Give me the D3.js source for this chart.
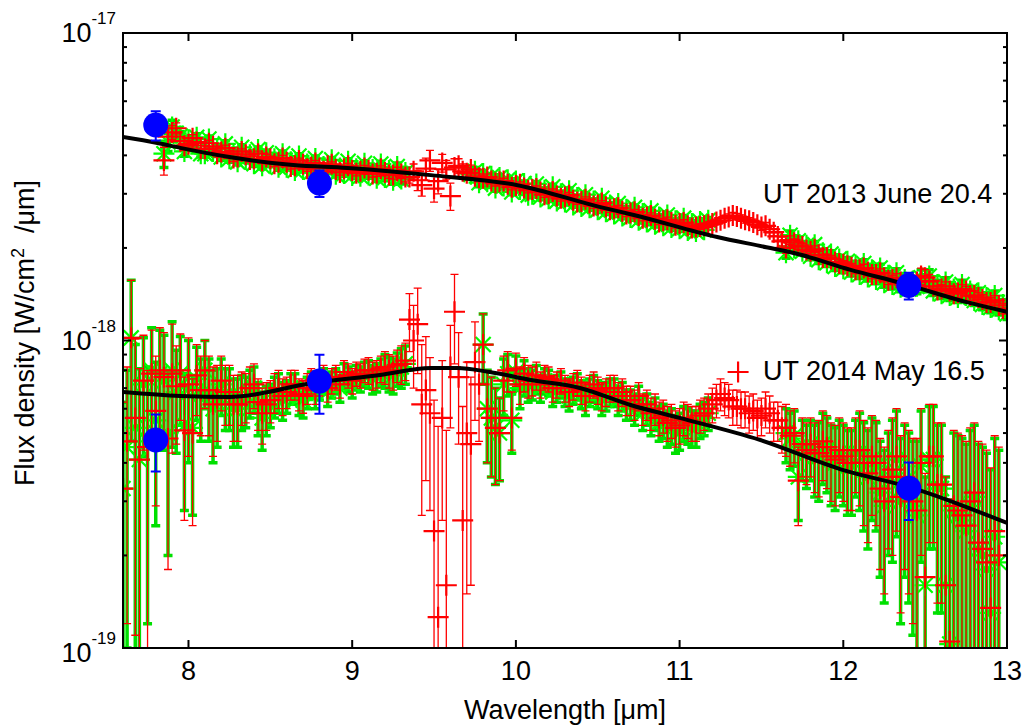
<!DOCTYPE html>
<html>
<head>
<meta charset="utf-8">
<script src="https://cdn.jsdelivr.net/npm/d3@7"></script>
<style>
  body { margin: 0; background: #fff; }
  svg { display: block; font-family: "Liberation Sans", Arial, Helvetica, sans-serif; }
</style>
</head>
<body>
<svg id="chart" width="1028" height="727"></svg>
<script>
// DATA  (flux values in units of 1e-18 W/cm^2/um, one row = 0.5 um)
const wavelength = [
  7.600, 7.625, 7.650, 7.675, 7.700, 7.725, 7.750, 7.775, 7.800, 7.825, 7.850, 7.875, 7.900, 7.925, 7.950, 7.975, 8.000, 8.025, 8.050, 8.075,
  8.100, 8.125, 8.150, 8.175, 8.200, 8.225, 8.250, 8.275, 8.300, 8.325, 8.350, 8.375, 8.400, 8.425, 8.450, 8.475, 8.500, 8.525, 8.550, 8.575,
  8.600, 8.625, 8.650, 8.675, 8.700, 8.725, 8.750, 8.775, 8.800, 8.825, 8.850, 8.875, 8.900, 8.925, 8.950, 8.975, 9.000, 9.025, 9.050, 9.075,
  9.100, 9.125, 9.150, 9.175, 9.200, 9.225, 9.250, 9.275, 9.300, 9.325, 9.350, 9.375, 9.400, 9.425, 9.450, 9.475, 9.500, 9.525, 9.550, 9.575,
  9.600, 9.625, 9.650, 9.675, 9.700, 9.725, 9.750, 9.775, 9.800, 9.825, 9.850, 9.875, 9.900, 9.925, 9.950, 9.975, 10.000, 10.025, 10.050, 10.075,
  10.100, 10.125, 10.150, 10.175, 10.200, 10.225, 10.250, 10.275, 10.300, 10.325, 10.350, 10.375, 10.400, 10.425, 10.450, 10.475, 10.500, 10.525, 10.550, 10.575,
  10.600, 10.625, 10.650, 10.675, 10.700, 10.725, 10.750, 10.775, 10.800, 10.825, 10.850, 10.875, 10.900, 10.925, 10.950, 10.975, 11.000, 11.025, 11.050, 11.075,
  11.100, 11.125, 11.150, 11.175, 11.200, 11.225, 11.250, 11.275, 11.300, 11.325, 11.350, 11.375, 11.400, 11.425, 11.450, 11.475, 11.500, 11.525, 11.550, 11.575,
  11.600, 11.625, 11.650, 11.675, 11.700, 11.725, 11.750, 11.775, 11.800, 11.825, 11.850, 11.875, 11.900, 11.925, 11.950, 11.975, 12.000, 12.025, 12.050, 12.075,
  12.100, 12.125, 12.150, 12.175, 12.200, 12.225, 12.250, 12.275, 12.300, 12.325, 12.350, 12.375, 12.400, 12.425, 12.450, 12.475, 12.500, 12.525, 12.550, 12.575,
  12.600, 12.625, 12.650, 12.675, 12.700, 12.725, 12.750, 12.775, 12.800, 12.825, 12.850, 12.875, 12.900, 12.925, 12.950, 12.975, 13.000
];

// UT 2013 June 20.4
const redJun2013 = [
  null, null, null, null, null, null, null, null, null, null, 3.85, 4.6, 4.75, 4.9, 4.45, 4.3, 4.35, 4.55, 4.42, 4.2,
  4.2, 4.38, 4.28, 4.05, 4.1, 4.22, 4.05, 3.92, 3.95, 4.12, 4.02, 3.88, 3.9, 4.05, 3.84, 3.95, 3.9, 3.76, 3.8, 3.92,
  3.8, 3.68, 3.7, 3.85, 3.74, 3.62, 3.66, 3.78, 3.64, 3.55, 3.7, 3.74, 3.6, 3.52, 3.62, 3.7, 3.57, 3.5, 3.55, 3.64,
  3.58, 3.48, 3.5, 3.62, 3.52, 3.45, 3.45, 3.56, 3.48, 3.4, 3.4, 3.55, 3.32, 3.2, 3.62, 3.85, 3.12, 3.3, 3.78, 3.6,
  2.95, 3.65, 3.7, 3.55, 3.5, 3.6, 3.42, 3.38, 3.37, 3.4, 3.3, 3.25, 3.28, 3.3, 3.22, 3.15, 3.19, 3.22, 3.13, 3.08,
  3.1, 3.12, 3.04, 2.98, 3.0, 3.05, 2.95, 2.9, 2.93, 2.97, 2.86, 2.82, 2.83, 2.88, 2.8, 2.74, 2.76, 2.8, 2.72, 2.66,
  2.68, 2.7, 2.63, 2.58, 2.6, 2.62, 2.55, 2.5, 2.52, 2.55, 2.48, 2.43, 2.45, 2.47, 2.42, 2.37, 2.4, 2.42, 2.36, 2.32,
  2.34, 2.35, 2.36, 2.38, 2.4, 2.43, 2.46, 2.5, 2.52, 2.55, 2.53, 2.5, 2.47, 2.45, 2.42, 2.38, 2.34, 2.36, 2.3, 2.25,
  2.18, 2.1, 2.0, 2.12, 2.08, 2.04, 2.02, 1.97, 1.95, 1.98, 1.9, 1.86, 1.86, 1.84, 1.8, 1.78, 1.77, 1.75, 1.73, 1.7,
  1.7, 1.72, 1.67, 1.64, 1.64, 1.66, 1.6, 1.57, 1.58, 1.6, 1.55, 1.52, 1.53, 1.5, 1.55, 1.62, 1.6, 1.56, 1.5, 1.46,
  1.47, 1.5, 1.45, 1.42, 1.43, 1.47, 1.45, 1.4, 1.4, 1.38, 1.36, 1.33, 1.33, 1.35, 1.3, 1.27, 1.27
];
const greenJun2013 = [
  null, null, null, null, null, null, null, null, null, null, 4.05, 4.42, 4.95, 4.72, 4.62, 4.12, 4.5, 4.38, 4.58, 4.05,
  4.05, 4.52, 4.12, 4.2, 3.95, 4.36, 3.9, 4.06, 3.81, 4.25, 3.88, 4.02, 3.76, 4.18, 3.7, 4.08, 3.76, 3.9, 3.66, 4.05,
  3.66, 3.81, 3.57, 3.98, 3.6, 3.75, 3.53, 3.91, 3.51, 3.68, 3.57, 3.87, 3.47, 3.64, 3.49, 3.83, 3.44, 3.62, 3.42, 3.77,
  3.45, 3.6, 3.37, 3.75, 3.39, 3.57, 3.32, 3.68, 3.35, 3.52, null, null, null, null, null, null, null, null, null, null,
  null, null, null, null, null, 3.47, 3.55, 3.26, 3.49, 3.28, 3.42, 3.13, 3.39, 3.18, 3.33, 3.04, 3.3, 3.1, 3.24, 2.97,
  2.99, 3.23, 2.93, 3.08, 2.89, 3.16, 2.84, 3.0, 2.82, 3.07, 2.76, 2.92, 2.73, 2.98, 2.7, 2.84, 2.66, 2.9, 2.62, 2.76,
  2.58, 2.79, 2.54, 2.67, 2.51, 2.71, 2.46, 2.59, 2.43, 2.64, 2.39, 2.52, 2.36, 2.56, 2.33, 2.45, 2.31, 2.5, 2.28, 2.4,
  2.26, 2.44, 2.29, 2.46, null, null, null, null, null, null, null, null, null, null, null, null, null, null, null, null,
  null, null, 1.93, 2.2, 2.0, 2.11, 1.95, 2.04, 1.88, 2.05, 1.83, 1.93, 1.79, 1.91, 1.74, 1.84, 1.71, 1.81, 1.67, 1.76,
  1.64, 1.78, 1.61, 1.7, 1.58, 1.72, 1.54, 1.63, 1.52, 1.66, 1.49, 1.58, 1.47, 1.56, 1.5, 1.6, 1.54, 1.62, 1.45, 1.52,
  1.42, 1.55, 1.4, 1.47, 1.38, 1.52, 1.4, 1.45, 1.35, 1.43, 1.31, 1.38, 1.28, 1.4, 1.26, 1.31, 1.22
];
const errJun2013 = [
  null, null, null, null, null, null, null, null, null, null, 0.4, 0.3, 0.25, 0.2, 0.15, 0.15, 0.12, 0.12, 0.12, 0.1,
  0.1, 0.1, 0.1, 0.1, 0.1, 0.1, 0.1, 0.1, 0.08, 0.08, 0.08, 0.08, 0.08, 0.08, 0.08, 0.08, 0.08, 0.08, 0.08, 0.08,
  0.07, 0.07, 0.07, 0.07, 0.07, 0.07, 0.07, 0.07, 0.07, 0.07, 0.07, 0.07, 0.07, 0.07, 0.07, 0.07, 0.07, 0.07, 0.07, 0.07,
  0.08, 0.08, 0.08, 0.08, 0.08, 0.08, 0.1, 0.1, 0.12, 0.12, 0.15, 0.2, 0.25, 0.25, 0.3, 0.3, 0.3, 0.3, 0.25, 0.25,
  0.3, 0.25, 0.2, 0.2, 0.15, 0.12, 0.1, 0.1, 0.08, 0.08, 0.07, 0.07, 0.07, 0.07, 0.06, 0.06, 0.06, 0.06, 0.06, 0.06,
  0.06, 0.06, 0.06, 0.06, 0.06, 0.06, 0.06, 0.06, 0.06, 0.06, 0.05, 0.05, 0.05, 0.05, 0.05, 0.05, 0.05, 0.05, 0.05, 0.05,
  0.05, 0.05, 0.05, 0.05, 0.05, 0.05, 0.05, 0.05, 0.05, 0.05, 0.05, 0.05, 0.05, 0.05, 0.05, 0.05, 0.05, 0.05, 0.05, 0.05,
  0.05, 0.05, 0.05, 0.05, 0.05, 0.05, 0.05, 0.05, 0.06, 0.06, 0.06, 0.06, 0.06, 0.06, 0.06, 0.06, 0.06, 0.06, 0.06, 0.06,
  0.06, 0.07, 0.08, 0.07, 0.06, 0.06, 0.05, 0.05, 0.05, 0.05, 0.05, 0.05, 0.05, 0.05, 0.05, 0.05, 0.05, 0.05, 0.05, 0.05,
  0.05, 0.05, 0.05, 0.05, 0.05, 0.05, 0.05, 0.05, 0.05, 0.05, 0.05, 0.05, 0.05, 0.05, 0.08, 0.1, 0.1, 0.08, 0.05, 0.05,
  0.05, 0.05, 0.05, 0.05, 0.05, 0.05, 0.05, 0.05, 0.05, 0.05, 0.05, 0.05, 0.05, 0.05, 0.05, 0.05, 0.05
];

// UT 2014 May 16.5
const redMay2014 = [
  0.33, 0.47, 1.02, 0.56, 0.41, 0.74, 0.45, 0.78, 0.59, 0.8, 0.76, 0.48, 0.78, 0.71, 0.8, 0.51, 0.72, 0.5, 0.77, 0.69,
  0.8, 0.69, 0.62, 0.65, 0.74, 0.68, 0.68, 0.62, 0.62, 0.66, 0.66, 0.7, 0.72, 0.63, 0.58, 0.62, 0.64, 0.68, 0.7, 0.66,
  0.68, 0.72, 0.72, 0.67, 0.66, 0.7, 0.74, 0.69, 0.73, 0.76, 0.7, 0.74, 0.76, 0.72, 0.79, 0.77, 0.74, 0.78, 0.77, 0.8,
  0.8, 0.77, 0.78, 0.81, 0.82, 0.8, 0.79, 0.83, 0.84, 0.86, 1.17, 1.0, 1.13, 0.62, 0.69, 0.58, 0.24, 0.126, 0.56, 0.16,
  0.82, 1.24, 0.76, 0.26, 0.5, 0.46, 0.85, 0.72, 0.97, 0.6, 0.56, 0.52, 0.5, 0.74, 0.8, 0.56, 0.81, 0.72, 0.78, 0.74,
  0.74, 0.77, 0.72, 0.76, 0.75, 0.7, 0.72, 0.74, 0.7, 0.68, 0.71, 0.73, 0.69, 0.66, 0.7, 0.72, 0.69, 0.66, 0.68, 0.7,
  0.7, 0.66, 0.68, 0.64, 0.64, 0.62, 0.66, 0.6, 0.62, 0.58, 0.6, 0.56, 0.57, 0.54, 0.55, 0.52, 0.53, 0.56, 0.55, 0.54,
  0.54, 0.57, 0.58, 0.6, 0.62, 0.64, 0.67, 0.65, 0.64, 0.61, 0.61, 0.6, 0.6, 0.58, 0.59, 0.56, 0.57, 0.6, 0.58, 0.55,
  0.55, 0.52, 0.52, 0.49, 0.5, 0.35, 0.46, 0.44, 0.46, 0.43, 0.43, 0.47, 0.45, 0.42, 0.41, 0.44, 0.42, 0.4, 0.4, 0.44,
  0.44, 0.4, 0.37, 0.42, 0.4, 0.33, 0.3, 0.36, 0.38, 0.42, 0.31, 0.36, 0.33, 0.3, 0.28, 0.4, 0.17, 0.42, 0.42, 0.34,
  0.34, 0.16, 0.105, 0.29, 0.28, 0.27, 0.25, 0.3, 0.32, 0.22, 0.21, 0.19, 0.135, 0.24, 0.2, null, null
];
const greenMay2014 = [
  0.33, 0.45, 1.02, 0.52, 0.41, 0.72, 0.47, 0.8, 0.55, 0.78, 0.74, 0.5, 0.8, 0.68, 0.78, 0.53, 0.7, 0.52, 0.75, 0.67,
  0.8, 0.67, 0.6, 0.63, 0.72, 0.66, 0.66, 0.6, 0.6, 0.64, 0.64, 0.68, 0.7, 0.61, 0.56, 0.6, 0.62, 0.66, 0.68, 0.64,
  0.66, 0.7, 0.7, 0.65, 0.64, 0.68, 0.72, 0.67, 0.71, 0.74, 0.68, 0.72, 0.74, 0.7, 0.77, 0.75, 0.72, 0.76, 0.75, 0.78,
  0.78, 0.75, 0.76, 0.79, 0.8, 0.78, 0.77, 0.81, 0.82, 0.84, null, null, null, null, null, null, null, null, null, null,
  null, null, null, null, null, null, null, null, 0.97, 0.6, 0.56, 0.52, 0.5, 0.72, 0.78, 0.55, 0.79, 0.7, 0.76, 0.72,
  0.72, 0.75, 0.7, 0.74, 0.73, 0.68, 0.7, 0.72, 0.68, 0.66, 0.69, 0.71, 0.67, 0.64, 0.68, 0.7, 0.67, 0.64, 0.66, 0.68,
  0.68, 0.64, 0.66, 0.62, 0.62, 0.6, 0.64, 0.58, 0.6, 0.56, 0.58, 0.54, 0.55, 0.52, 0.53, 0.5, 0.51, 0.54, 0.53, 0.52,
  0.52, 0.55, 0.56, 0.58, null, null, null, null, null, null, null, null, null, null, null, null, null, null, null, null,
  null, null, 0.5, 0.48, 0.49, 0.36, 0.45, 0.43, 0.45, 0.42, 0.42, 0.46, 0.44, 0.41, 0.4, 0.43, 0.41, 0.39, 0.39, 0.43,
  0.43, 0.39, 0.36, 0.41, 0.39, 0.32, 0.29, 0.35, 0.37, 0.41, 0.3, 0.35, 0.32, 0.29, 0.27, 0.39, 0.16, 0.41, 0.41, 0.33,
  0.33, 0.16, 0.103, 0.28, 0.27, 0.26, 0.24, 0.29, 0.31, 0.21, 0.2, 0.18, 0.13, 0.23, 0.19, null, null
];
const errMay2014 = [
  0.3, 0.35, 0.55, 0.45, 0.4, 0.3, 0.35, 0.3, 0.3, 0.3, 0.3, 0.3, 0.35, 0.25, 0.25, 0.25, 0.3, 0.25, 0.2, 0.2,
  0.2, 0.2, 0.2, 0.18, 0.15, 0.15, 0.15, 0.15, 0.15, 0.13, 0.12, 0.12, 0.12, 0.12, 0.12, 0.11, 0.1, 0.1, 0.1, 0.09,
  0.08, 0.08, 0.08, 0.08, 0.08, 0.08, 0.07, 0.07, 0.07, 0.07, 0.07, 0.07, 0.07, 0.07, 0.07, 0.07, 0.07, 0.07, 0.07, 0.07,
  0.08, 0.08, 0.08, 0.08, 0.1, 0.1, 0.1, 0.1, 0.12, 0.12, 0.25, 0.3, 0.35, 0.35, 0.34, 0.3, 0.4, 0.4, 0.3, 0.35,
  0.3, 0.4, 0.3, 0.35, 0.35, 0.3, 0.3, 0.25, 0.25, 0.2, 0.2, 0.18, 0.15, 0.15, 0.12, 0.12, 0.1, 0.1, 0.1, 0.09,
  0.08, 0.08, 0.07, 0.07, 0.07, 0.07, 0.07, 0.07, 0.07, 0.07, 0.07, 0.07, 0.07, 0.07, 0.07, 0.07, 0.07, 0.07, 0.07, 0.07,
  0.07, 0.07, 0.07, 0.07, 0.07, 0.07, 0.07, 0.07, 0.07, 0.07, 0.07, 0.07, 0.07, 0.07, 0.07, 0.07, 0.07, 0.07, 0.07, 0.07,
  0.07, 0.07, 0.07, 0.07, 0.08, 0.08, 0.08, 0.08, 0.08, 0.08, 0.08, 0.08, 0.08, 0.08, 0.08, 0.08, 0.08, 0.08, 0.08, 0.08,
  0.08, 0.09, 0.1, 0.1, 0.1, 0.1, 0.1, 0.1, 0.1, 0.11, 0.12, 0.12, 0.12, 0.12, 0.12, 0.12, 0.12, 0.12, 0.12, 0.12,
  0.15, 0.15, 0.15, 0.15, 0.15, 0.15, 0.15, 0.15, 0.18, 0.18, 0.18, 0.18, 0.18, 0.18, 0.2, 0.2, 0.2, 0.2, 0.2, 0.2,
  0.2, 0.2, 0.2, 0.22, 0.22, 0.22, 0.22, 0.22, 0.22, 0.25, 0.25, 0.25, 0.25, 0.25, 0.25, null, null
];

// model curves
const modelWlJun2013 = [7.6, 7.81, 7.95, 8.25, 8.64, 8.97, 9.48, 10.01, 10.51, 10.72, 11.23, 11.53, 11.74, 12.04, 12.35, 12.76, 13.0];
const modelJun2013 = [4.59, 4.39, 4.23, 3.95, 3.72, 3.64, 3.45, 3.2, 2.72, 2.56, 2.17, 2.01, 1.9, 1.7, 1.54, 1.33, 1.24];
const modelWlMay2014 = [7.6, 7.95, 8.25, 8.76, 9.17, 9.48, 9.64, 9.84, 10.09, 10.39, 10.7, 11.0, 11.49, 12.0, 12.4, 13.0];
const modelMay2014 = [0.68, 0.66, 0.655, 0.727, 0.772, 0.814, 0.814, 0.79, 0.744, 0.701, 0.617, 0.56, 0.475, 0.379, 0.334, 0.255];

// photometry
const photWl = [7.8, 8.8, 12.4];
const photJun2013 = [5.02, 3.25, 1.51];
const photErrJun2013 = [0.55, 0.32, 0.15];
const photMay2014 = [0.475, 0.738, 0.331];
const photErrMay2014 = [0.1, 0.16, 0.07];

const xTicks = [8, 9, 10, 11, 12, 13];
const yMajor = [1e-19, 1e-18, 1e-17];

// CANVAS SETUP
const svg = d3.select("#chart");
const margin = { top: 33, right: 21, bottom: 79, left: 123 },
  width = +svg.attr("width") - margin.left - margin.right,
  height = +svg.attr("height") - margin.top - margin.bottom;
const unit = 1e-18;

const x = d3.scaleLinear().domain([7.6, 13]).range([0, width]);
const y = d3.scaleLog().domain([1e-19, 1e-17]).range([height, 0]);
const yv = (v) => (v > 0 ? y(v * unit) : height + 40);

svg.append("defs").append("clipPath").attr("id", "clip")
  .append("rect").attr("width", width).attr("height", height);

const plot = svg.append("g").attr("transform", `translate(${margin.left},${margin.top})`);
const g = plot.append("g").attr("clip-path", "url(#clip)");

const plusPath = "M-10.5,0H10.5M0,-10.5V10.5";
const starPath = "M-10.5,0H10.5M0,-10.5V10.5M-7.5,-7.5L7.5,7.5M-7.5,7.5L7.5,-7.5";

const points = (vals, errs) =>
  wavelength.map((w, i) => ({ w, v: vals[i], e: errs[i] })).filter((d) => d.v != null);

function errorBars(layer, pts, color, lw, cap) {
  layer.append("g").attr("stroke", color).attr("stroke-width", lw).attr("fill", "none")
    .selectAll("path").data(pts).join("path")
    .attr("d", (d) => {
      const cx = x(d.w), y0 = yv(d.v + d.e), y1 = yv(d.v - d.e);
      return `M${cx},${y0}V${y1}M${cx - cap},${y0}H${cx + cap}M${cx - cap},${y1}H${cx + cap}`;
    });
}

function markers(layer, pts, color, path, lw) {
  layer.append("g").attr("stroke", color).attr("stroke-width", lw).attr("fill", "none")
    .selectAll("path").data(pts).join("path")
    .attr("transform", (d) => `translate(${x(d.w)},${yv(d.v)})`)
    .attr("d", path);
}

// RENDER SPECTRA
[
  [greenJun2013, redJun2013, errJun2013],
  [greenMay2014, redMay2014, errMay2014],
].forEach(([green, red, err]) => {
  const gp = points(green, err), rp = points(red, err);
  errorBars(g, gp, "#00e000", 3.5, 4.5);
  markers(g, gp, "#00ff00", starPath, 2.2);
  errorBars(g, rp, "#ff0000", 1.3, 4);
  markers(g, rp, "#ff0000", plusPath, 2.2);
});

// MODEL CURVES
const line = d3.line().x((d) => x(d[0])).y((d) => yv(d[1])).curve(d3.curveMonotoneX);
[[modelWlJun2013, modelJun2013], [modelWlMay2014, modelMay2014]].forEach(([wl, m]) => {
  g.append("path")
    .datum(wl.map((w, i) => [w, m[i]]))
    .attr("fill", "none").attr("stroke", "#000").attr("stroke-width", 4)
    .attr("stroke-linejoin", "round")
    .attr("d", line);
});

// PHOTOMETRY
[[photJun2013, photErrJun2013], [photMay2014, photErrMay2014]].forEach(([p, pe]) => {
  const pts = photWl.map((w, i) => ({ w, v: p[i], e: pe[i] }));
  errorBars(g, pts, "#0000ff", 2, 5);
  g.append("g").selectAll("circle").data(pts).join("circle")
    .attr("cx", (d) => x(d.w)).attr("cy", (d) => yv(d.v))
    .attr("r", 12.5).attr("fill", "#0000ff");
});

// AXES
plot.append("rect").attr("width", width).attr("height", height)
  .attr("fill", "none").attr("stroke", "#000").attr("stroke-width", 2);

const ticks = plot.append("g").attr("stroke", "#000").attr("stroke-width", 2);
xTicks.forEach((t) => {
  ticks.append("line").attr("x1", x(t)).attr("x2", x(t)).attr("y1", height).attr("y2", height - 8);
  ticks.append("line").attr("x1", x(t)).attr("x2", x(t)).attr("y1", 0).attr("y2", 8);
});
y.ticks().forEach((t) => {
  const major = yMajor.some((m) => Math.abs(m - t) / m < 1e-6);
  const len = major ? 8 : 4;
  ticks.append("line").attr("x1", 0).attr("x2", len).attr("y1", y(t)).attr("y2", y(t));
  ticks.append("line").attr("x1", width).attr("x2", width - len).attr("y1", y(t)).attr("y2", y(t));
});

plot.append("g").selectAll("text").data(xTicks).join("text")
  .attr("x", (d) => x(d)).attr("y", height + 32)
  .attr("text-anchor", "middle").attr("font-size", 27).attr("fill", "#000")
  .text((d) => d);

yMajor.forEach((t, i) => {
  const txt = plot.append("text")
    .attr("x", -7).attr("y", y(t) + (i === 0 ? 14 : 9))
    .attr("text-anchor", "end").attr("font-size", 27).attr("fill", "#000");
  txt.append("tspan").text("10");
  txt.append("tspan").attr("dy", -18).attr("font-size", 17).text(Math.round(Math.log10(t)));
});

// LABELS
svg.append("text")
  .attr("x", margin.left + width / 2).attr("y", 719)
  .attr("text-anchor", "middle").attr("font-size", 27)
  .text("Wavelength [\u03bcm]");

const ylab = svg.append("text")
  .attr("transform", "translate(34,333) rotate(-90)")
  .attr("text-anchor", "middle").attr("font-size", 27);
ylab.append("tspan").text("Flux density [W/cm");
ylab.append("tspan").attr("dy", -10).attr("font-size", 18).text("2");
ylab.append("tspan").attr("dy", 10).text("\u00a0\u00a0/\u03bcm]");

// ANNOTATION + LEGEND
const lx = x(11.51);
plot.append("text").attr("x", lx).attr("y", 203 - margin.top)
  .attr("font-size", 27).text("UT 2013 June 20.4");
plot.append("text").attr("x", lx).attr("y", 380 - margin.top)
  .attr("font-size", 27).text("UT 2014 May 16.5");
plot.append("path")
  .attr("transform", `translate(${lx - 25},${372 - margin.top})`)
  .attr("d", plusPath).attr("stroke", "#ff0000").attr("stroke-width", 2.2).attr("fill", "none");
</script>
</body>
</html>
